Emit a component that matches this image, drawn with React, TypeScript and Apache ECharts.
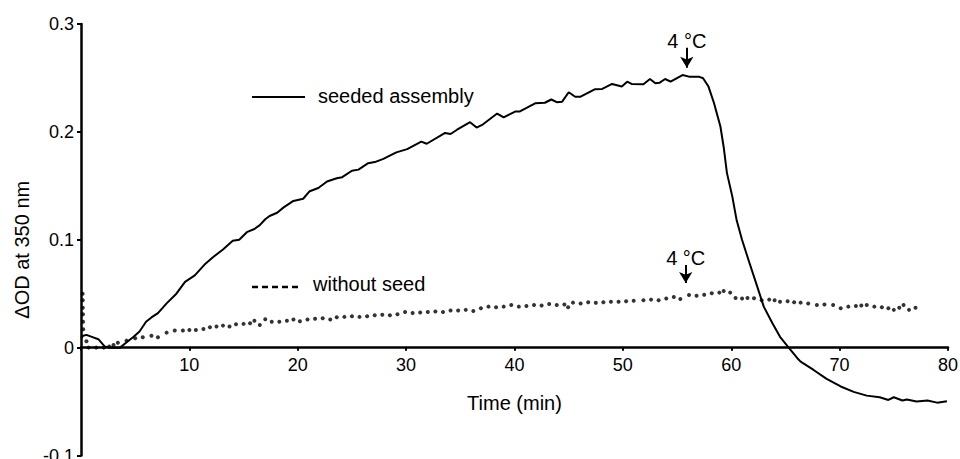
import React, { useEffect, useRef } from "react";
import * as echarts from "echarts";

// [time (min), ΔOD]
const seededAssembly: [number, number][] = [
  [0, 0.009], [0.2, 0.011], [0.5, 0.0118], [1.0, 0.01], [1.6, 0.0078], [2.2, 0.001], [2.6, 0], [3.6, 0],
  [4.3, 0.0056], [4.8, 0.0096], [5.4, 0.015], [6.0, 0.024], [6.5, 0.028], [7.1, 0.032], [7.9, 0.041],
  [8.8, 0.05], [9.6, 0.061], [10.5, 0.067], [11.4, 0.077], [12.2, 0.084], [13.1, 0.091], [14.0, 0.099],
  [14.6, 0.1], [15.3, 0.107], [16.0, 0.11], [16.5, 0.1135], [17.0, 0.119], [17.4, 0.122], [18.1, 0.125],
  [18.7, 0.13], [19.6, 0.136], [20.5, 0.138], [21.1, 0.145], [21.9, 0.148], [22.7, 0.154], [23.6, 0.157],
  [24.1, 0.158], [25.0, 0.164], [25.6, 0.165], [26.5, 0.171], [27.1, 0.172], [27.9, 0.175], [29.1, 0.181],
  [30.1, 0.184], [31.4, 0.191], [31.9, 0.189], [33.6, 0.199], [34.1, 0.198], [34.7, 0.202], [35.9, 0.209],
  [36.5, 0.204], [37.1, 0.207], [38.4, 0.217], [39.0, 0.2135], [40.1, 0.219], [40.5, 0.219], [41.9, 0.2265],
  [42.8, 0.227], [43.4, 0.23], [43.9, 0.2275], [44.4, 0.228], [45.0, 0.2367], [45.6, 0.2326], [46.1, 0.2326],
  [47.4, 0.2395], [48.1, 0.2398], [49.0, 0.2444], [49.9, 0.242], [50.4, 0.2465], [50.8, 0.2444], [51.9, 0.2441],
  [52.5, 0.249], [53.0, 0.245], [53.4, 0.2456], [53.9, 0.249], [54.4, 0.2465], [55.5, 0.2527], [56.1, 0.2512],
  [57.0, 0.2512], [57.4, 0.2497], [57.9, 0.242], [58.4, 0.227], [59.0, 0.205], [59.3, 0.186], [59.6, 0.162],
  [60.1, 0.14], [60.5, 0.118], [61.0, 0.0998], [61.6, 0.081], [62.4, 0.0565], [63.0, 0.038], [63.8, 0.0226],
  [64.5, 0.01], [65.3, 0.0], [66.1, -0.0098], [66.4, -0.013], [67.6, -0.0207], [68.8, -0.029], [70.1, -0.036],
  [71.3, -0.041], [72.5, -0.0445], [73.7, -0.046], [74.5, -0.0485], [75.0, -0.046], [75.8, -0.049],
  [76.2, -0.048], [77.1, -0.05], [78.1, -0.049], [79.0, -0.051], [79.9, -0.0497],
];

const withoutSeed: [number, number][] = [
  [0.15, 0.05], [0.16, 0.044], [0.17, 0.037], [0.18, 0.031], [0.19, 0.024], [0.2, 0.017], [0.5, 0.006],
  [0.7, 0.0], [1.4, 0.0], [2.1, 0.0], [2.6, 0.001], [3.0, 0.0025], [3.4, 0.0046], [4.2, 0.0065], [5.0, 0.0087],
  [5.7, 0.0096], [6.5, 0.011], [7.1, 0.0096], [7.9, 0.0139], [8.65, 0.0158], [9.4, 0.0158], [10.0, 0.0164],
  [10.6, 0.0164], [11.3, 0.0173], [11.9, 0.0189], [12.5, 0.0195], [13.1, 0.0204], [13.7, 0.0195], [14.3, 0.0217],
  [15.0, 0.022], [15.6, 0.0226], [16.0, 0.025], [16.5, 0.021], [17.0, 0.0263], [17.6, 0.024], [18.3, 0.024],
  [19.0, 0.025], [19.6, 0.026], [20.2, 0.0245], [20.9, 0.026], [21.6, 0.0268], [22.3, 0.0272], [23.0, 0.026],
  [23.6, 0.0282], [24.3, 0.0285], [25.0, 0.029], [25.7, 0.0285], [26.4, 0.029], [27.1, 0.03], [27.8, 0.0305],
  [28.5, 0.03], [29.2, 0.031], [29.9, 0.033], [30.6, 0.032], [31.3, 0.0325], [32.0, 0.033], [32.7, 0.0335],
  [33.4, 0.033], [34.1, 0.0345], [34.8, 0.0345], [35.5, 0.035], [36.2, 0.034], [36.9, 0.0365], [37.6, 0.038],
  [38.3, 0.0375], [39.0, 0.038], [39.7, 0.0396], [40.4, 0.038], [41.1, 0.0385], [41.8, 0.0395], [42.5, 0.039],
  [43.2, 0.0405], [43.9, 0.0395], [44.6, 0.04], [44.95, 0.0374], [45.4, 0.0417], [46.1, 0.041], [46.8, 0.042],
  [47.5, 0.0415], [48.2, 0.042], [48.9, 0.0426], [49.6, 0.0425], [50.3, 0.043], [51.0, 0.0435], [51.9, 0.044],
  [52.6, 0.0445], [53.3, 0.044], [54.0, 0.0455], [54.7, 0.047], [55.3, 0.045], [56.1, 0.0488], [56.8, 0.048],
  [57.5, 0.049], [58.2, 0.0505], [58.9, 0.051], [59.3, 0.0525], [59.9, 0.051], [60.4, 0.046], [61.0, 0.0455],
  [61.5, 0.046], [62.1, 0.0458], [62.8, 0.044], [63.5, 0.0445], [64.0, 0.044], [64.5, 0.0426], [65.2, 0.043],
  [65.8, 0.042], [66.4, 0.0417], [67.1, 0.041], [67.9, 0.0396], [68.6, 0.04], [69.4, 0.0396], [70.1, 0.0365],
  [70.8, 0.038], [71.5, 0.0385], [72.0, 0.039], [72.5, 0.0396], [73.2, 0.038], [73.9, 0.0375], [74.5, 0.0365],
  [75.0, 0.035], [75.5, 0.037], [75.9, 0.0396], [76.4, 0.035], [77.0, 0.037],
];

const seriesNames = ["seeded assembly", "without seed"];
const xAxisName = "Time (min)";
const yAxisName = "ΔOD at 350 nm";
const coolLabel = "4 °C";
const coolTime = [55.9, 55.8];
const arrowStart = [0.278, 0.0766];
const arrowEnd = [0.2594, 0.06];

const FONT = '"Liberation Sans", Arial, Helvetica, sans-serif';

const GRID_TOP = 24;
const GRID_BOTTOM = 3.5;
const CHART_H = 459;
const Y_MIN = -0.1;
const Y_MAX = 0.3;
// shift the x axis up so it sits on y = 0
const X_AXIS_OFFSET = -((CHART_H - GRID_TOP - GRID_BOTTOM) * (0 - Y_MIN)) / (Y_MAX - Y_MIN);

function arrowMark(i: number) {
  return {
    silent: true,
    symbol: ["none", "arrow"],
    symbolSize: [10, 11],
    lineStyle: { color: "#000", width: 2, type: "solid" },
    label: {
      show: true,
      position: "start",
      formatter: coolLabel,
      fontSize: 20,
      color: "#000",
      fontFamily: FONT,
      distance: -3,
    },
    data: [
      [
        { coord: [coolTime[i], arrowStart[i]] },
        { coord: [coolTime[i], arrowEnd[i]] },
      ],
    ],
  };
}

export default function App() {
  const ref = useRef<HTMLDivElement>(null);
  useEffect(() => {
    const chart = echarts.init(ref.current!, null, { renderer: "svg" });
    chart.setOption({
      animation: false,
      backgroundColor: "#fff",
      grid: {
        left: 81,
        right: 12,
        top: GRID_TOP,
        bottom: GRID_BOTTOM,
        containLabel: false,
        outerBoundsMode: "none",
      },
      xAxis: {
        type: "value",
        min: 0,
        max: 80,
        interval: 10,
        position: "bottom",
        offset: X_AXIS_OFFSET,
        name: xAxisName,
        nameLocation: "middle",
        nameGap: 45,
        nameTextStyle: { fontSize: 20, color: "#000", fontFamily: FONT },
        axisLine: { onZero: false, lineStyle: { color: "#000", width: 2.5 } },
        axisTick: { show: true, length: 3, lineStyle: { color: "#000", width: 2 } },
        axisLabel: {
          fontSize: 18,
          color: "#000",
          fontFamily: FONT,
          margin: 8,
          formatter: (v: number) => (v === 0 ? "" : String(v)),
        },
        splitLine: { show: false },
      },
      yAxis: {
        type: "value",
        min: Y_MIN,
        max: Y_MAX,
        interval: 0.1,
        name: yAxisName,
        nameLocation: "middle",
        nameRotate: 90,
        nameGap: 49,
        nameTextStyle: { fontSize: 20, color: "#000", fontFamily: FONT, padding: [0, 20, 0, 0] },
        axisLine: { show: true, onZero: false, lineStyle: { color: "#000", width: 2.5 } },
        axisTick: { show: true, length: 4, lineStyle: { color: "#000", width: 2 } },
        axisLabel: {
          fontSize: 18,
          color: "#000",
          fontFamily: FONT,
          margin: 7,
          formatter: (v: number) => (Math.abs(v) < 1e-9 ? "0" : v.toFixed(1)),
        },
        splitLine: { show: false },
      },
      graphic: [
        { type: "line", shape: { x1: 252, y1: 97, x2: 305, y2: 97 }, style: { stroke: "#000", lineWidth: 2 } },
        {
          type: "text",
          x: 318,
          y: 96,
          style: { text: seriesNames[0], font: `20px ${FONT}`, fill: "#000", verticalAlign: "middle" },
        },
        {
          type: "line",
          shape: { x1: 252, y1: 287, x2: 302, y2: 287 },
          style: { stroke: "#000", lineWidth: 2.5, lineDash: [6, 4] },
        },
        {
          type: "text",
          x: 313,
          y: 284,
          style: { text: seriesNames[1], font: `20px ${FONT}`, fill: "#000", verticalAlign: "middle" },
        },
      ],
      series: [
        {
          type: "line",
          name: seriesNames[0],
          data: seededAssembly,
          symbol: "none",
          showSymbol: false,
          lineStyle: { color: "#000", width: 2 },
          itemStyle: { color: "#000" },
          markLine: arrowMark(0),
          z: 3,
        },
        {
          type: "scatter",
          name: seriesNames[1],
          data: withoutSeed,
          symbol: "circle",
          symbolSize: 4,
          itemStyle: { color: "#000" },
          markLine: arrowMark(1),
          z: 2,
        },
      ],
    });
    return () => chart.dispose();
  }, []);
  return (
    <div
      ref={ref}
      style={{ position: "absolute", left: 0, top: 0, width: 960, height: 459, background: "#fff" }}
    />
  );
}
